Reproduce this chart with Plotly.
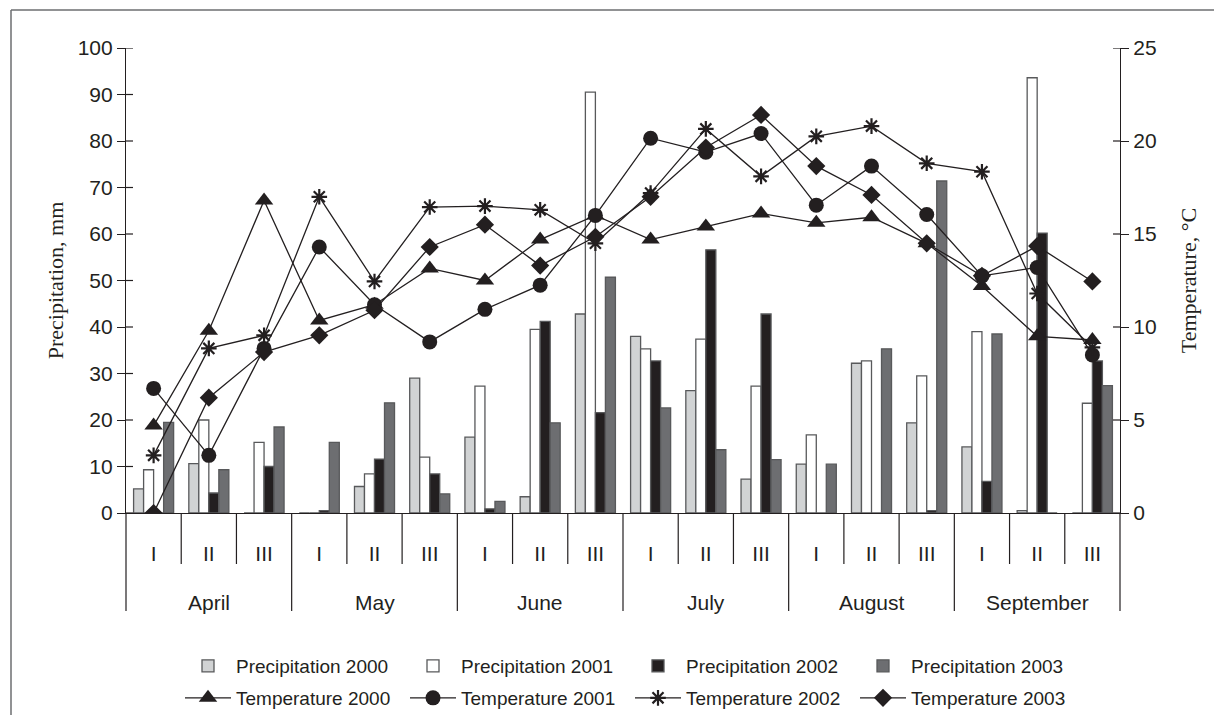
import plotly.graph_objects as go

decades = ["I", "II", "III"] * 6
months = ["April", "May", "June", "July", "August", "September"]

p2000 = [5.2, 10.6, 0, 0, 5.7, 29.0, 16.3, 3.5, 42.8, 38.0, 26.3, 7.3, 10.5, 32.2, 19.4, 14.2, 0.5, 0]
p2001 = [9.3, 20.0, 15.2, 0, 8.4, 12.0, 27.3, 39.5, 90.5, 35.3, 37.4, 27.3, 16.8, 32.7, 29.5, 39.0, 93.6, 23.6]
p2002 = [0, 4.3, 10.0, 0.5, 11.6, 8.4, 0.9, 41.2, 21.6, 32.7, 56.6, 42.8, 0, 0, 0.5, 6.8, 60.2, 32.7]
p2003 = [19.5, 9.3, 18.5, 15.2, 23.7, 4.1, 2.5, 19.4, 50.7, 22.6, 13.6, 11.5, 10.5, 35.3, 71.4, 38.5, 0, 27.4]

t2000 = [4.7, 9.8, 16.8, 10.35, 11.2, 13.15, 12.5, 14.7, 16.0, 14.7, 15.4, 16.1, 15.6, 15.9, 14.5, 12.2, 9.5, 9.3]
t2001 = [6.7, 3.1, 8.85, 14.3, 11.2, 9.2, 10.95, 12.25, 16.0, 20.15, 19.4, 20.4, 16.55, 18.65, 16.05, 12.75, 13.2, 8.5]
t2002 = [3.1, 8.85, 9.55, 17.0, 12.45, 16.45, 16.5, 16.3, 14.5, 17.2, 20.65, 18.1, 20.25, 20.8, 18.8, 18.35, 11.8, 8.9]
t2003 = [0.0, 6.2, 8.65, 9.55, 10.9, 14.3, 15.5, 13.3, 14.85, 17.0, 19.65, 21.4, 18.65, 17.1, 14.5, 12.75, 14.35, 12.45]

n = len(decades)
xpos = [i + 0.5 for i in range(n)]

W, H = 1222, 715
L, T = 118, 40
pw, ph = 994, 465
R = W - L - pw
B = H - T - ph
OFF = 8  # page offset of the figure in the screenshot

def px_y(sy):
    return (T + ph - (sy - OFF)) / ph

def px_x(sx):
    return ((sx - OFF) - L) / pw

FONT = "Liberation Sans, Arial, sans-serif"
SERIF = "Liberation Serif, Times New Roman, serif"
OUT = "#58595b"
INK = "#231f20"

fig = go.Figure()

bar_specs = [
    ("Precipitation 2000", p2000, "#d1d3d4"),
    ("Precipitation 2001", p2001, "#ffffff"),
    ("Precipitation 2002", p2002, INK),
    ("Precipitation 2003", p2003, "#6d6e71"),
]
for name, vals, col in bar_specs:
    fig.add_trace(go.Bar(
        x=xpos, y=vals, name=name, legend="legend",
        marker=dict(color=col, line=dict(color=OUT, width=1.3)),
        yaxis="y",
    ))

line_specs = [
    ("Temperature 2000", t2000, "triangle-up", 16),
    ("Temperature 2001", t2001, "circle", 15),
    ("Temperature 2002", t2002, "asterisk-open", 13),
    ("Temperature 2003", t2003, "diamond", 14),
]
for name, vals, sym, sz in line_specs:
    mk = dict(symbol=sym, size=sz, color=INK)
    if sym == "asterisk-open":
        mk["line"] = dict(color=INK, width=2.2)
    fig.add_trace(go.Scatter(
        x=xpos, y=vals, name=name, legend="legend2",
        mode="lines+markers",
        line=dict(color=INK, width=1.3),
        marker=mk,
        yaxis="y2",
    ))

shapes = []
# inside tick parts (ticks cross the axes)
for v in range(0, 101, 10):
    shapes.append(dict(type="line", xref="paper", yref="y", x0=0, x1=7 / pw, y0=v, y1=v,
                       line=dict(color=INK, width=1.2)))
for v in range(0, 26, 5):
    shapes.append(dict(type="line", xref="paper", yref="y2", x0=1, x1=1 - 7 / pw, y0=v, y1=v,
                       line=dict(color=INK, width=1.2)))
# separators below the x axis
for i in range(n + 1):
    x = i / n
    y1 = px_y(611) if i % 3 == 0 else px_y(564)
    shapes.append(dict(type="line", xref="paper", yref="paper", x0=x, x1=x, y0=0, y1=y1,
                       line=dict(color=INK, width=1.2)))
# outer frame (left and top edges)
shapes.append(dict(type="line", xref="paper", yref="paper", x0=px_x(11), x1=px_x(11),
                   y0=px_y(10), y1=px_y(730), line=dict(color="#6d6e71", width=1.5)))
shapes.append(dict(type="line", xref="paper", yref="paper", x0=px_x(11), x1=px_x(1240),
                   y0=px_y(10), y1=px_y(10), line=dict(color="#6d6e71", width=1.5)))

annotations = []
for k, m in enumerate(months):
    annotations.append(dict(text=m, xref="paper", yref="paper", x=(3 * k + 1.5) / n,
                            y=px_y(602), showarrow=False, xanchor="center", yanchor="middle",
                            font=dict(family=FONT, size=21, color=INK)))

legend_common = dict(orientation="h", xanchor="left", yanchor="middle",
                     itemwidth=46, entrywidth=164, entrywidthmode="pixels",
                     traceorder="normal", font=dict(family=FONT, size=19, color=INK),
                     bgcolor="rgba(0,0,0,0)")

fig.update_layout(
    width=W, height=H,
    margin=dict(l=L, r=R, t=T, b=B, autoexpand=False),
    paper_bgcolor="white", plot_bgcolor="white",
    barmode="group", bargap=0.275, bargroupgap=0,
    font=dict(family=FONT, size=21, color=INK),
    xaxis=dict(range=[0, n], tickvals=xpos, ticktext=decades, ticks="",
               showline=True, linecolor=INK, linewidth=1.2, showgrid=False, zeroline=False,
               ticklabelstandoff=22, tickfont=dict(size=21)),
    yaxis=dict(range=[0, 100], dtick=10, ticks="outside", ticklen=8, tickcolor=INK,
               tickwidth=1.2, showline=True, linecolor=INK, linewidth=1.2,
               showgrid=False, zeroline=False, tickfont=dict(size=21),
               title=dict(text="Precipitation, mm", font=dict(family=SERIF, size=22), standoff=7)),
    yaxis2=dict(range=[0, 25], dtick=5, overlaying="y", side="right", ticks="outside",
                ticklen=8, tickcolor=INK, tickwidth=1.2, showline=True, linecolor=INK,
                linewidth=1.2, showgrid=False, zeroline=False, tickfont=dict(size=21),
                title=dict(text="Temperature, °C", font=dict(family=SERIF, size=22), standoff=24)),
    legend=dict(x=px_x(180), y=px_y(666), **legend_common),
    legend2=dict(x=px_x(180), y=px_y(698), **legend_common),
    shapes=shapes,
    annotations=annotations,
    showlegend=True,
)

fig.write_html("out.html")
